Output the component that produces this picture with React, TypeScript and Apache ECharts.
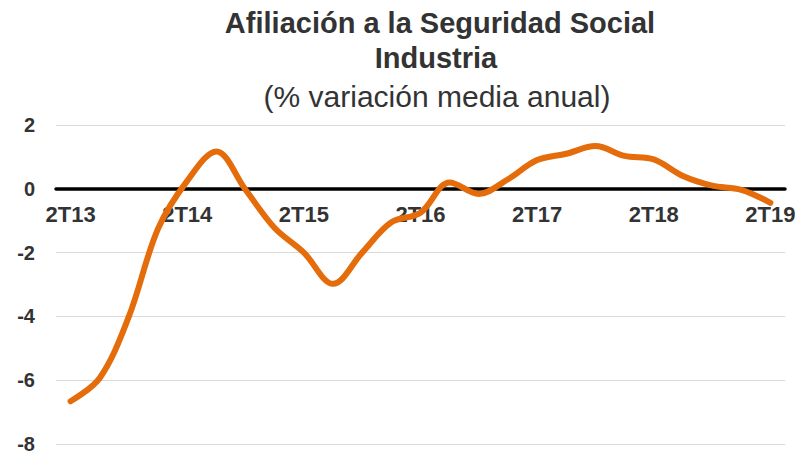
import React, { useEffect, useRef } from "react";
import * as echarts from "echarts";

const categories = [
  "2T13", "3T13", "4T13", "1T14",
  "2T14", "3T14", "4T14", "1T15",
  "2T15", "3T15", "4T15", "1T16",
  "2T16", "3T16", "4T16", "1T17",
  "2T17", "3T17", "4T17", "1T18",
  "2T18", "3T18", "4T18", "1T19",
  "2T19",
];

const industria = [
  -6.66, -5.93, -4.0, -1.25,
  0.25, 1.17, -0.03, -1.23,
  -2.0, -2.98, -2.0, -1.05,
  -0.75, 0.2, -0.16, 0.3,
  0.9, 1.1, 1.34, 1.03,
  0.92, 0.4, 0.1, -0.03,
  -0.44,
];

const yTicks = { min: -8, max: 2, interval: 2 };

const titleMain = "Afiliación a la Seguridad Social";
const titleSub = "Industria";
const titleUnit = "(% variación media anual)";

export default function App() {
  const ref = useRef<HTMLDivElement>(null);
  useEffect(() => {
    if (!ref.current) return;
    const chart = echarts.init(ref.current, undefined, { renderer: "svg" });
    const font = "'Liberation Sans', Arial, Helvetica, sans-serif";
    const gridTop = 125;
    const gridBottom = 10;
    const plotH = 454 - gridTop - gridBottom;
    const zeroOffset = (plotH * (yTicks.max - 0)) / (yTicks.max - yTicks.min);
    chart.setOption({
      animation: false,
      backgroundColor: "#ffffff",
      textStyle: { fontFamily: font },
      graphic: [
        {
          type: "text",
          x: 440,
          y: 23,
          style: {
            text: titleMain,
            fontFamily: font,
            fontSize: 29,
            fontWeight: "bold",
            fill: "#333333",
            textAlign: "center",
            textVerticalAlign: "middle",
          },
        },
        {
          type: "text",
          x: 436,
          y: 58,
          style: {
            text: titleSub,
            fontFamily: font,
            fontSize: 29,
            fontWeight: "bold",
            fill: "#333333",
            textAlign: "center",
            textVerticalAlign: "middle",
          },
        },
        {
          type: "text",
          x: 437,
          y: 96,
          style: {
            text: titleUnit,
            fontFamily: font,
            fontSize: 30,
            fill: "#333333",
            textAlign: "center",
            textVerticalAlign: "middle",
          },
        },
      ],
      grid: {
        left: 56,
        right: 13,
        top: gridTop,
        bottom: gridBottom,
        containLabel: false,
        outerBoundsMode: "none",
      },
      xAxis: {
        type: "category",
        data: categories,
        boundaryGap: true,
        position: "top",
        offset: -zeroOffset,
        axisLine: { onZero: false, lineStyle: { color: "#000000", width: 3.5 } },
        axisTick: { show: false },
        splitLine: { show: false },
        axisLabel: {
          inside: true,
          interval: 3,
          margin: 15,
          color: "#333333",
          fontSize: 22,
          fontWeight: "bold",
          fontFamily: font,
        },
        z: 1,
      },
      yAxis: {
        type: "value",
        min: yTicks.min,
        max: yTicks.max,
        interval: yTicks.interval,
        axisLine: { show: false },
        axisTick: { show: false },
        splitLine: { lineStyle: { color: "#d9d9d9", width: 1.2 } },
        axisLabel: {
          margin: 21,
          color: "#333333",
          fontSize: 20,
          fontWeight: "bold",
          fontFamily: font,
        },
      },
      series: [
        {
          type: "line",
          data: industria,
          smooth: 0.35,
          symbol: "none",
          lineStyle: { color: "#e46c0a", width: 6, cap: "round", join: "round" },
          z: 5,
        },
      ],
    });
    return () => chart.dispose();
  }, []);
  return <div ref={ref} style={{ width: 798, height: 454, position: "absolute", left: 0, top: 0 }} />;
}
